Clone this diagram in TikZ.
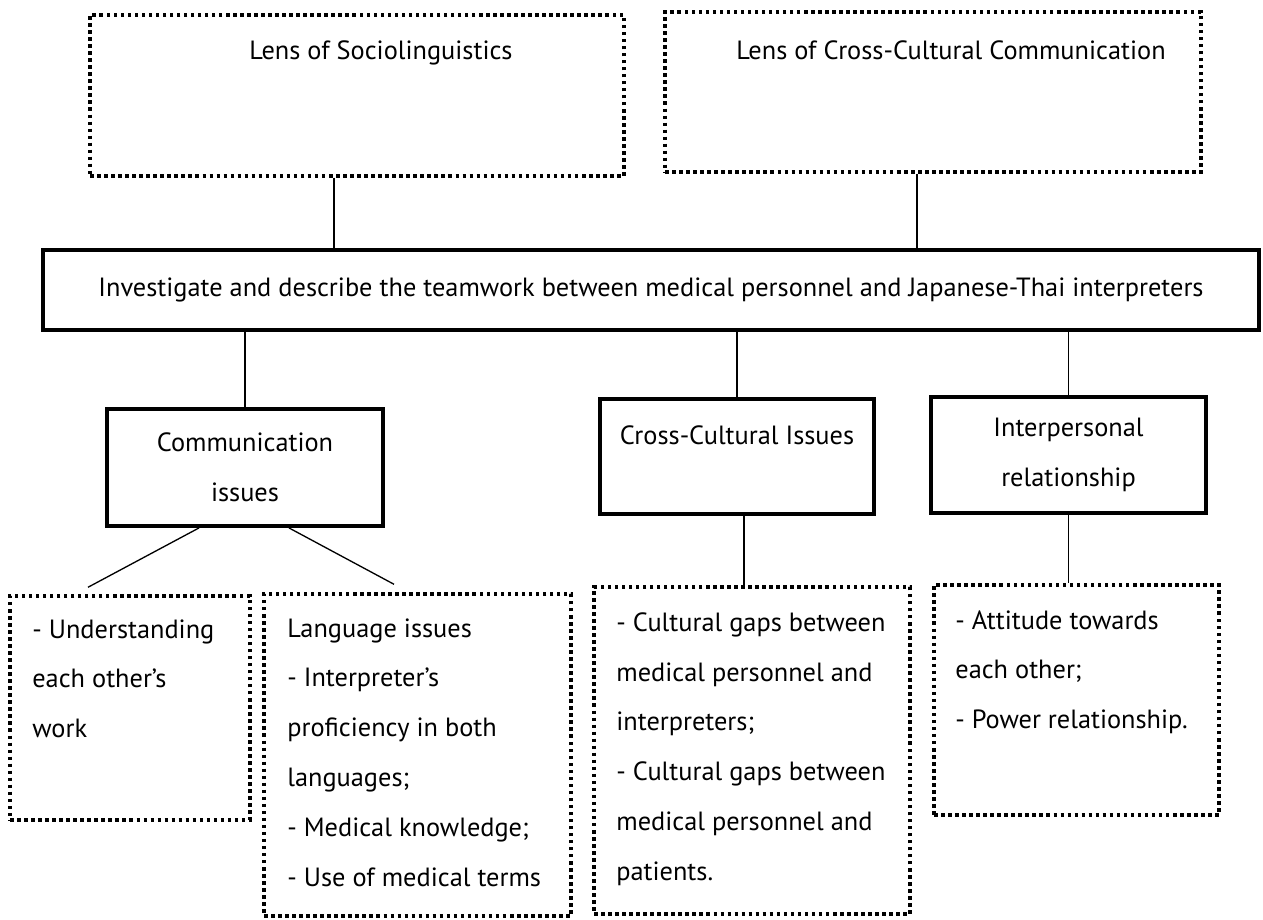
\documentclass[tikz,border=0pt]{standalone}
\usepackage{fontspec}
\setmainfont{PT Sans}
\usetikzlibrary{calc}

\begin{document}
\begin{tikzpicture}[x=0.02cm, y=-0.02cm,
  lens/.style={draw, line width=2pt, dash pattern=on 2pt off 2pt, inner sep=0pt},
  mainbox/.style={draw, line width=2.6pt, inner sep=0pt, font=\fontsize{15}{28.4}\selectfont},
  issue/.style={draw, line width=2.2pt, inner sep=0pt, align=center, font=\fontsize{15}{28.4}\selectfont},
  link/.style={line width=0.75pt},
  txt/.style={inner sep=0pt, font=\fontsize{15}{28.4}\selectfont},
  list/.style={txt, align=left, anchor=north west}]

\useasboundingbox (0,0) rectangle (1263,919);

%% the two lenses
\node[lens, minimum width=10.68cm, minimum height=3.22cm] (socio) at (357,95.5) {};
\node[txt] (sociot) at (381,53) {Lens of Sociolinguistics};
\node[lens, minimum width=10.72cm, minimum height=3.2cm] (cross) at (933,92) {};
\node[txt] (crosst) at (951,50) {Lens of Cross-Cultural Communication};

%% aim
\node[mainbox, minimum width=24.32cm, minimum height=1.6cm] (aim) at (651,290)
  {Investigate and describe the teamwork between medical personnel and Japanese-Thai interpreters};

%% issues
\node[issue, minimum width=5.52cm, minimum height=2.34cm] (comm) at (245,467.5) {Communication\\issues};
\node[issue, minimum width=5.48cm, minimum height=2.3cm] (cult) at (737,456.5) {};
\node[txt] (cultt) at (737,435) {Cross-Cultural Issues};
\node[issue, minimum width=5.5cm, minimum height=2.32cm] (inter) at (1068.5,455) {Interpersonal\\relationship};

%% details
\node[lens, minimum width=4.8cm, minimum height=4.48cm] (under) at (130,708) {};
\node[list] (undert) at (32,619) {- Understanding\\each other’s\\work};
\node[lens, minimum width=6.14cm, minimum height=6.44cm] (lang) at (417.5,755) {};
\node[list] (langt) at (287,618) {Language issues\\- Interpreter’s\\proficiency in both\\languages;\\- Medical knowledge;\\- Use of medical terms};
\node[lens, minimum width=6.32cm, minimum height=6.54cm] (gaps) at (752,750.5) {};
\node[list] (gapst) at (616,612) {- Cultural gaps between\\medical personnel and\\interpreters;\\- Cultural gaps between\\medical personnel and\\patients.};
\node[lens, minimum width=5.7cm, minimum height=4.6cm] (att) at (1076.5,700) {};
\node[list] (attt) at (955,610) {- Attitude towards\\each other;\\- Power relationship.};

%% connectors
\coordinate (xs) at (334,0);
\coordinate (xc) at (917,0);
\coordinate (xg) at (744,0);
\draw[link] (socio.south -| xs) -- (aim.north -| xs);
\draw[link] (cross.south -| xc) -- (aim.north -| xc);
\draw[link] (aim.south -| comm.north) -- (comm.north);
\draw[link] (aim.south -| cult.north) -- (cult.north);
\draw[link] (aim.south -| inter.north) -- (inter.north);
\draw[link] ($(comm.south)+(-46,0)$) -- ($(under.north)+(-42,-7)$);
\draw[link] ($(comm.south)+(44,0)$) -- ($(lang.north)+(-23.5,-8)$);
\draw[link] (cult.south -| xg) -- (gaps.north -| xg);
\draw[link] (inter.south) -- (att.north -| inter.south);

\end{tikzpicture}
\end{document}
